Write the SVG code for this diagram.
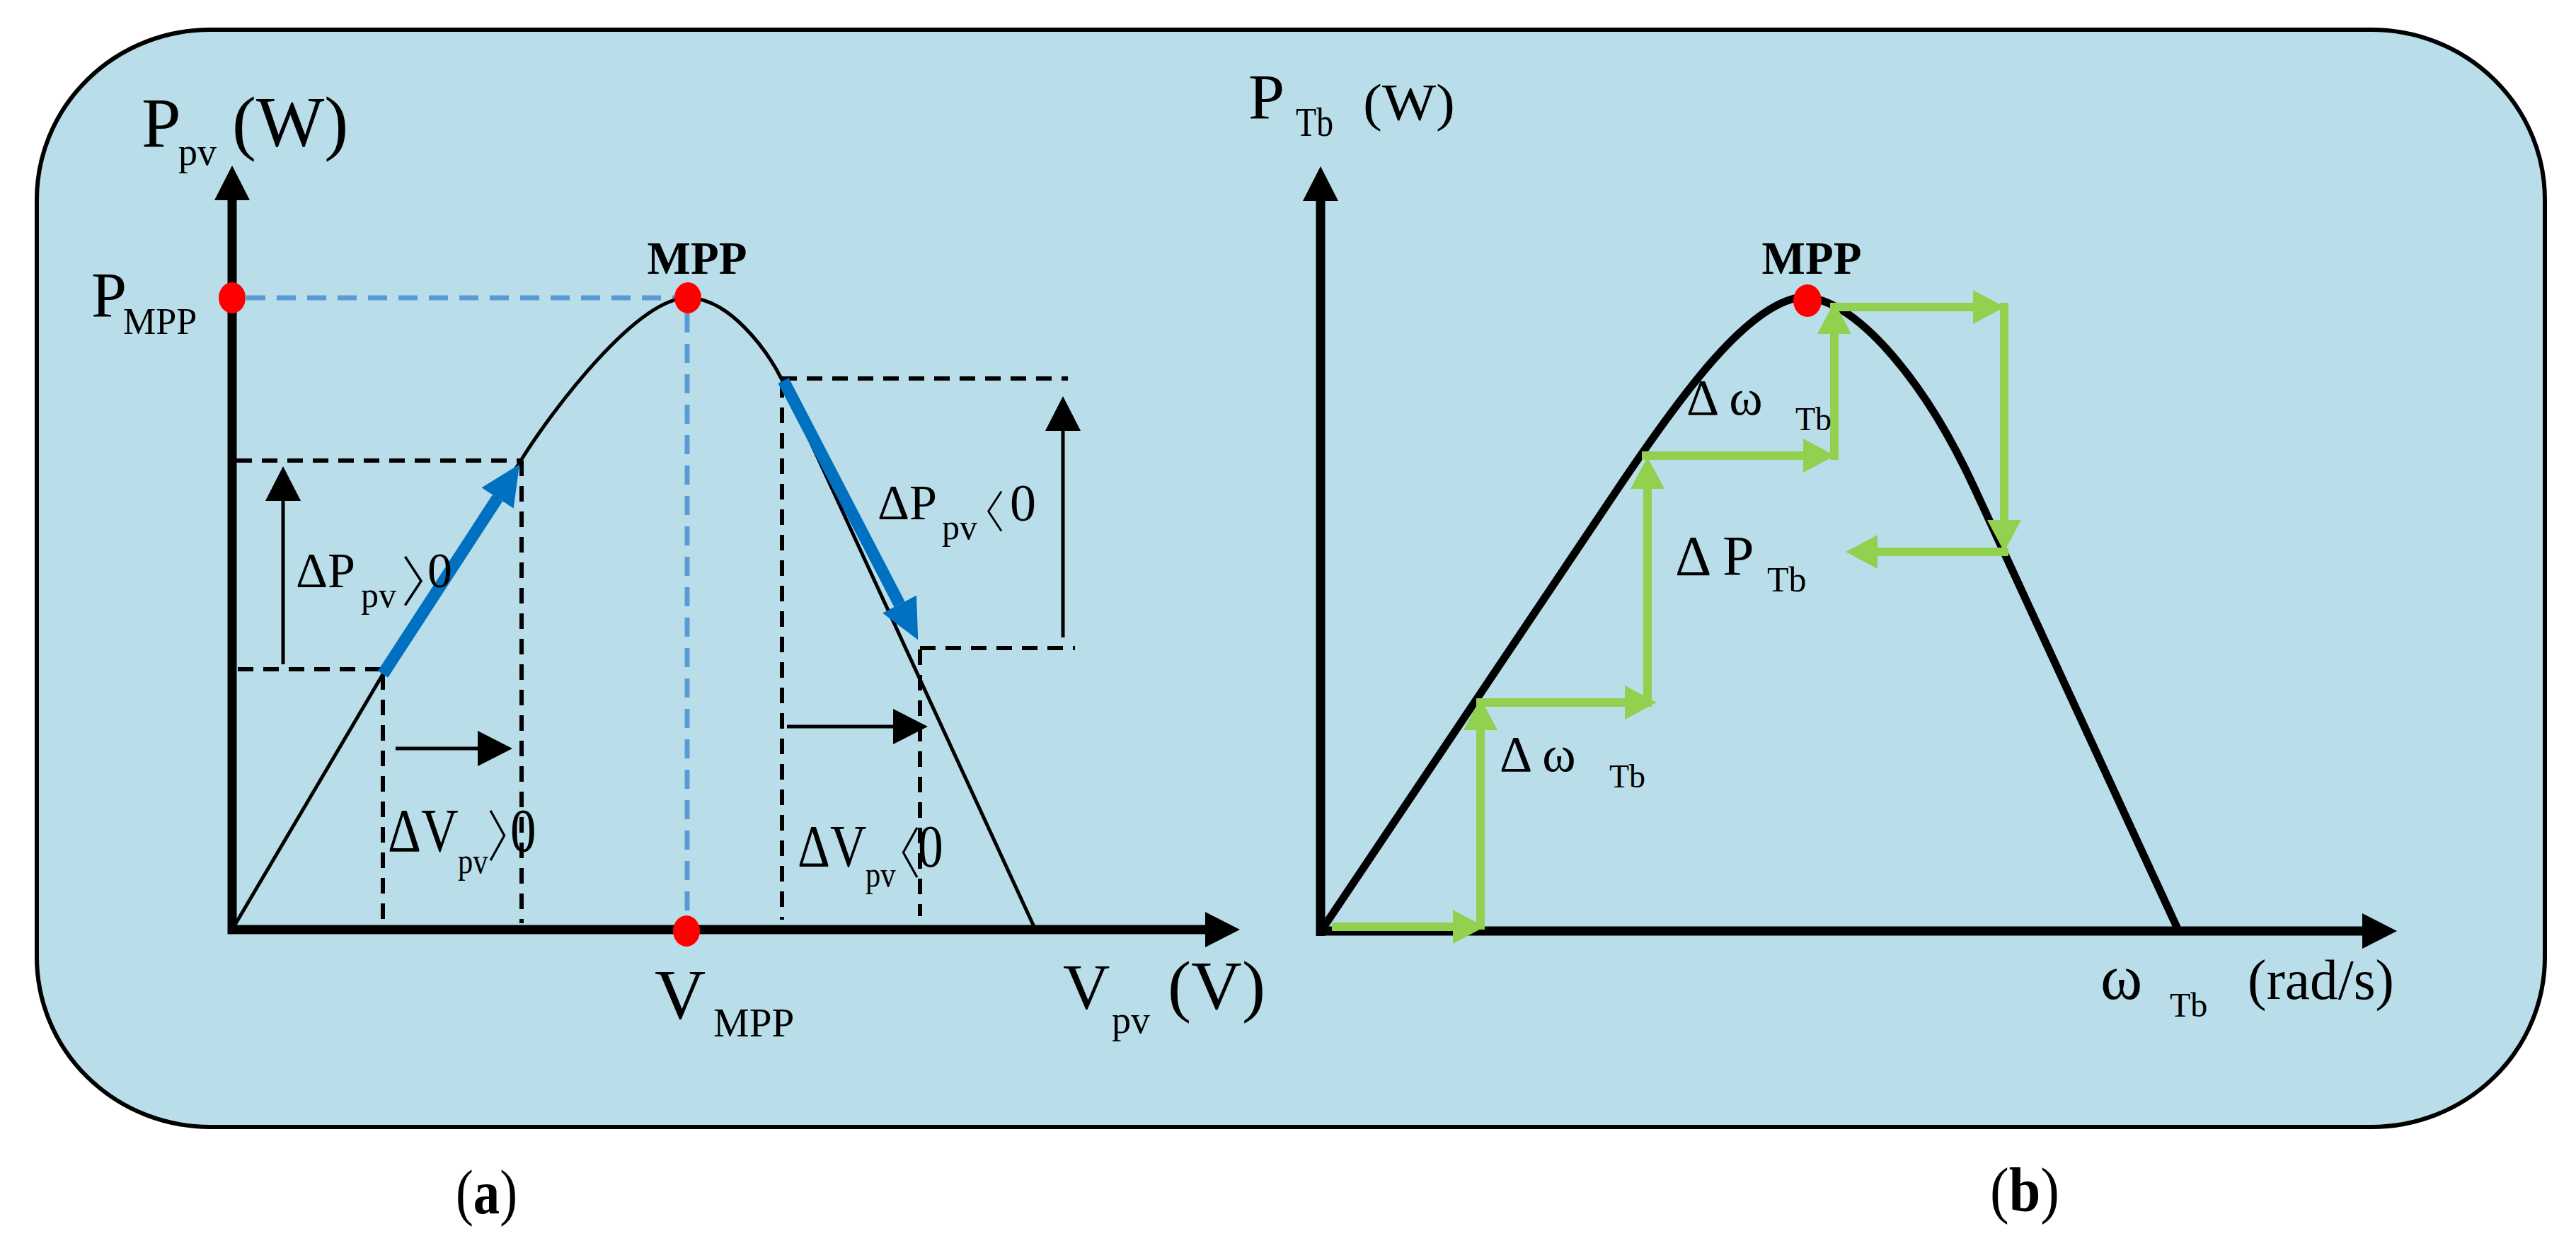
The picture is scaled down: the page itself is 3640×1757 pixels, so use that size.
<svg xmlns="http://www.w3.org/2000/svg" width="3640" height="1757" viewBox="0 0 3640 1757">
<style>
.t{font-family:"Liberation Serif","Times New Roman",serif;fill:#000}
.b{font-weight:bold}
.ang{font-family:"Noto Sans CJK SC","Noto Sans CJK JP",sans-serif;font-weight:300;font-feature-settings:"palt" 1}
.ax{stroke:#000;stroke-width:13;fill:none}
.crv{stroke:#000;fill:none;stroke-linejoin:round}
.thin{stroke:#000;stroke-width:5;fill:none}
.dk{stroke:#000;stroke-width:6;stroke-dasharray:22 14;fill:none}
.db{stroke:#5B9BD5;stroke-width:7;stroke-dasharray:27 16;fill:none}
.blue{stroke:#0070C0;stroke-width:17;fill:none}
.gr{stroke:#92D050;stroke-width:12;fill:none}
.dot{fill:#FF0000}
</style>
<defs>
<marker id="ahK" markerUnits="userSpaceOnUse" markerWidth="49" markerHeight="50" viewBox="0 0 49 50" refX="0" refY="25" orient="auto"><path d="M0,0 L49,25 L0,50 Z" fill="#000"/></marker>
<marker id="ahG" markerUnits="userSpaceOnUse" markerWidth="45" markerHeight="48" viewBox="0 0 45 48" refX="0" refY="24" orient="auto"><path d="M0,0 L45,24 L0,48 Z" fill="#92D050"/></marker>
<marker id="ahB" markerUnits="userSpaceOnUse" markerWidth="57" markerHeight="54" viewBox="0 0 57 54" refX="0" refY="27" orient="auto"><path d="M0,0 L57,27 L0,54 Z" fill="#0070C0"/></marker>
</defs>
<rect width="3640" height="1757" fill="#ffffff"/>
<rect id="frame" x="52" y="42" width="3544" height="1551" rx="245" ry="240" fill="#B9DEE9" stroke="#000" stroke-width="6"/>

<g id="panel-a">
  <g id="a-guides">
    <path class="db" d="M348,421 H953"/>
    <path class="db" d="M971,443 V1295"/>
    <path class="dk" d="M334,651 H736"/>
    <path class="dk" d="M737,651 V1305"/>
    <path class="dk" d="M336,946 H541"/>
    <path class="dk" d="M541,953 V1305"/>
    <path class="dk" d="M1104,535 H1509"/>
    <path class="dk" d="M1105,540 V1300"/>
    <path class="dk" d="M1300,916 H1519"/>
    <path class="dk" d="M1300,918 V1295"/>
  </g>
  <path id="a-curve" class="crv" stroke-width="5" d="M328,1314 L541,953 L736,651 C780,580 900,421 972,421 C1030,421 1083,494 1104,535 L1463,1314"/>
  <g id="a-axes">
    <path class="ax" d="M328,1320 V283" marker-end="url(#ahK)"/>
    <path class="ax" d="M322,1314 H1703" marker-end="url(#ahK)"/>
  </g>
  <g id="a-arrows">
    <path class="thin" d="M400,939 V708" marker-end="url(#ahK)"/>
    <path class="thin" d="M1502,901 V609" marker-end="url(#ahK)"/>
    <path class="thin" d="M559,1058 H675" marker-end="url(#ahK)"/>
    <path class="thin" d="M1112,1027 H1262" marker-end="url(#ahK)"/>
    <path class="blue" d="M541,953 L703,704" marker-end="url(#ahB)"/>
    <path class="blue" d="M1107,538 L1271,854" marker-end="url(#ahB)"/>
  </g>
  <g id="a-dots">
    <ellipse class="dot" cx="328" cy="421" rx="19" ry="22"/>
    <ellipse class="dot" cx="972" cy="421" rx="19" ry="22"/>
    <ellipse class="dot" cx="970" cy="1316" rx="19" ry="22"/>
  </g>
  <g id="a-labels">
    <text id="lbl-ppv" class="t" x="200" y="207" font-size="100">P<tspan x="252" y="233" font-size="54">pv</tspan><tspan x="328" y="207" font-size="102">(W)</tspan></text>
    <text id="lbl-pmpp" class="t" x="129" y="448" font-size="90">P<tspan x="174" y="472" font-size="52">MPP</tspan></text>
    <text id="lbl-mpp-a" class="t b" x="985" y="387" font-size="65" text-anchor="middle">MPP</text>
    <text id="lbl-dp-pos" class="t" x="418" y="830" font-size="70">ΔP<tspan x="510" y="858" font-size="50">pv</tspan><tspan class="ang" x="569" y="850" font-size="76">〉</tspan><tspan x="604" y="830">0</tspan></text>
    <text id="lbl-dp-neg" class="t" x="1240" y="734" font-size="70">ΔP<tspan x="1331" y="762" font-size="50">pv</tspan><tspan class="ang" x="1387" y="747" font-size="62">〈</tspan><tspan x="1427" y="736" font-size="74">0</tspan></text>
    <text id="lbl-dv-pos" class="t" transform="scale(0.85 1)" x="644.71" y="1203" font-size="86">ΔV<tspan x="761.18" y="1234" font-size="50">pv</tspan><tspan class="ang" x="811.76" y="1211" font-size="78">〉</tspan><tspan x="848.24" y="1203">0</tspan></text>
    <text id="lbl-dv-neg" class="t" transform="scale(0.85 1)" x="1325.88" y="1225" font-size="84">ΔV<tspan x="1438.82" y="1253" font-size="50">pv</tspan><tspan class="ang" x="1489.41" y="1235" font-size="78">〈</tspan><tspan x="1525.88" y="1225">0</tspan></text>
    <text id="lbl-vmpp" class="t" x="925" y="1439" font-size="100">V<tspan x="1008" y="1465" font-size="57">MPP</tspan></text>
    <text id="lbl-vpv" class="t" x="1502" y="1426" font-size="92">V<tspan x="1571" y="1460" font-size="54">pv</tspan><tspan x="1650" y="1426" font-size="97" textLength="138" lengthAdjust="spacingAndGlyphs">(V)</tspan></text>
    <text id="lbl-a" class="t" x="644" y="1715" font-size="88" textLength="87" lengthAdjust="spacingAndGlyphs">(<tspan class="b">a</tspan>)</text>
  </g>
</g>

<g id="panel-b">
  <path id="b-curve" class="crv" stroke-width="11" d="M1866,1317 L2290,685 C2380,552 2470,430 2545,420 C2620,418 2720,538 2790,690 L3079,1317"/>
  <g id="b-axes">
    <path class="ax" d="M1866,1323 V284" stroke-width="11" marker-end="url(#ahK)"/>
    <path class="ax" d="M1860,1316 H3338" marker-end="url(#ahK)"/>
  </g>
  <g id="b-steps">
    <path class="gr" d="M1882,1310 H2053" marker-end="url(#ahG)"/>
    <path class="gr" d="M2092,1314 V1032" marker-end="url(#ahG)"/>
    <path class="gr" d="M2086,993 H2296" marker-end="url(#ahG)"/>
    <path class="gr" d="M2328,999 V691" marker-end="url(#ahG)"/>
    <path class="gr" d="M2320,644 H2548" marker-end="url(#ahG)"/>
    <path class="gr" d="M2592,650 V472" marker-end="url(#ahG)"/>
    <path class="gr" d="M2586,434 H2788" marker-end="url(#ahG)"/>
    <path class="gr" d="M2832,428 V735" marker-end="url(#ahG)"/>
    <path class="gr" d="M2838,780 H2653" marker-end="url(#ahG)"/>
  </g>
  <ellipse id="b-mpp-dot" class="dot" cx="2554" cy="425" rx="20" ry="23"/>
  <g id="b-labels">
    <text id="lbl-ptb" class="t" x="1764" y="168" font-size="92">P<tspan x="1831" y="192" font-size="58" textLength="53" lengthAdjust="spacingAndGlyphs">Tb</tspan><tspan x="1926" y="170" font-size="74" textLength="130" lengthAdjust="spacingAndGlyphs">(W)</tspan></text>
    <text id="lbl-mpp-b" class="t b" x="2560" y="387" font-size="65" text-anchor="middle">MPP</text>
    <text id="lbl-dw-up" class="t" x="2383" y="586" font-size="72">Δ ω<tspan x="2537" y="608" font-size="46">Tb</tspan></text>
    <text id="lbl-dptb" class="t" x="2367" y="813" font-size="80">Δ P<tspan x="2497" y="836" font-size="50">Tb</tspan></text>
    <text id="lbl-dw-low" class="t" x="2119" y="1090" font-size="72">Δ ω<tspan x="2274" y="1113" font-size="46">Tb</tspan></text>
    <text id="lbl-wtb" class="t" x="2968" y="1412" font-size="90">ω<tspan x="3066" y="1437" font-size="48">Tb</tspan><tspan x="3176" y="1412" font-size="80" textLength="207" lengthAdjust="spacingAndGlyphs">(rad/s)</tspan></text>
    <text id="lbl-b" class="t" x="2812" y="1712" font-size="88" textLength="98" lengthAdjust="spacingAndGlyphs">(<tspan class="b">b</tspan>)</text>
  </g>
</g>
</svg>
